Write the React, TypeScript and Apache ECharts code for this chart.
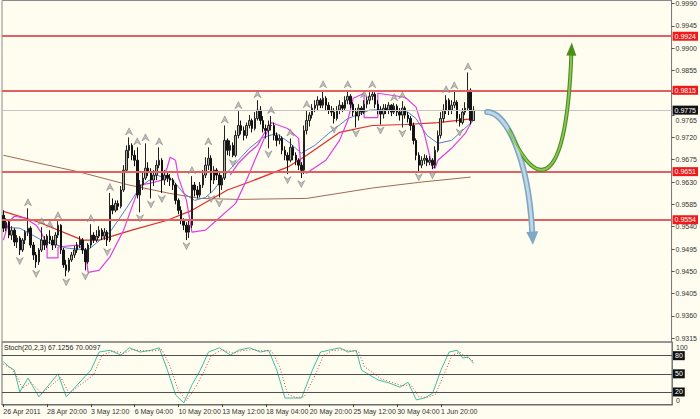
import React, { useEffect, useRef } from "react";
import * as echarts from "echarts";

// ---------- data ----------
const dateLabels = ["26 Apr 2011", "28 Apr 20:00", "3 May 12:00", "6 May 04:00", "10 May 20:00", "13 May 12:00", "18 May 04:00", "20 May 20:00", "25 May 12:00", "30 May 04:00", "1 Jun 20:00"];
const barsPerLabel = 16;
const slotCount = 245;

const firstOpen = 0.9563;
const closes = [
  0.9537, 0.9549, 0.9523, 0.9533, 0.9509, 0.9517, 0.9493, 0.9513, 0.9529, 0.9537,
  0.9503, 0.9483, 0.9469, 0.9493, 0.9513, 0.9503, 0.9521, 0.9513, 0.9503, 0.9523,
  0.9543, 0.9493, 0.9463, 0.9452, 0.9473, 0.9483, 0.9493, 0.9503, 0.9513, 0.9493,
  0.9469, 0.9503, 0.9523, 0.9513, 0.9521, 0.9533, 0.9521, 0.9529, 0.9513, 0.9583,
  0.9573, 0.9587, 0.9581, 0.9614, 0.9654, 0.9694, 0.9704, 0.9684, 0.9674, 0.9604,
  0.9624, 0.9638, 0.9658, 0.9650, 0.9634, 0.9644, 0.9664, 0.9674, 0.9634, 0.9644,
  0.9638, 0.9634, 0.9624, 0.9593, 0.9573, 0.9553, 0.9543, 0.9529, 0.9543, 0.9624,
  0.9614, 0.9604, 0.9624, 0.9644, 0.9664, 0.9678, 0.9634, 0.9654, 0.9644, 0.9624,
  0.9638, 0.9714, 0.9694, 0.9704, 0.9684, 0.9724, 0.9744, 0.9734, 0.9724, 0.9744,
  0.9754, 0.9738, 0.9758, 0.9775, 0.9754, 0.9738, 0.9734, 0.9744, 0.9744, 0.9724,
  0.9714, 0.9718, 0.9694, 0.9684, 0.9674, 0.9700, 0.9684, 0.9674, 0.9664, 0.9654,
  0.9734, 0.9754, 0.9765, 0.9779, 0.9785, 0.9795, 0.9785, 0.9799, 0.9785, 0.9775,
  0.9771, 0.9758, 0.9775, 0.9785, 0.9779, 0.9795, 0.9803, 0.9787, 0.9771, 0.9763,
  0.9779, 0.9771, 0.9787, 0.9795, 0.9803, 0.9807, 0.9787, 0.9775, 0.9767, 0.9779,
  0.9775, 0.9785, 0.9771, 0.9783, 0.9771, 0.9765, 0.9779, 0.9765, 0.9758, 0.9744,
  0.9714, 0.9684, 0.9664, 0.9674, 0.9678, 0.9670, 0.9674, 0.9664, 0.9694, 0.9724,
  0.9758, 0.9775, 0.9795, 0.9775, 0.9785, 0.9791, 0.9758, 0.9750, 0.9771, 0.9779,
  0.9815, 0.9754, 0.9775,
];
const highs = [
  0.9573, 0.9557, 0.9553, 0.9541, 0.9537, 0.9523, 0.9521, 0.9517, 0.9533, 0.9577,
  0.9541, 0.9509, 0.9489, 0.9497, 0.9539, 0.9521, 0.9525, 0.9533, 0.9521, 0.9529,
  0.9551, 0.9545, 0.9497, 0.9473, 0.9477, 0.9489, 0.9501, 0.9509, 0.9521, 0.9517,
  0.9497, 0.9507, 0.9545, 0.9529, 0.9533, 0.9541, 0.9537, 0.9537, 0.9533, 0.9608,
  0.9597, 0.9593, 0.9593, 0.9622, 0.9664, 0.9704, 0.9720, 0.9708, 0.9694, 0.9700,
  0.9634, 0.9650, 0.9708, 0.9670, 0.9658, 0.9654, 0.9674, 0.9700, 0.9678, 0.9654,
  0.9650, 0.9646, 0.9638, 0.9628, 0.9597, 0.9581, 0.9557, 0.9549, 0.9553, 0.9642,
  0.9630, 0.9622, 0.9630, 0.9654, 0.9680, 0.9700, 0.9684, 0.9662, 0.9658, 0.9650,
  0.9644, 0.9744, 0.9718, 0.9714, 0.9710, 0.9734, 0.9773, 0.9754, 0.9742, 0.9750,
  0.9765, 0.9758, 0.9771, 0.9795, 0.9783, 0.9763, 0.9746, 0.9754, 0.9763, 0.9750,
  0.9730, 0.9726, 0.9722, 0.9702, 0.9690, 0.9718, 0.9704, 0.9690, 0.9678, 0.9670,
  0.9744, 0.9775, 0.9771, 0.9787, 0.9795, 0.9803, 0.9799, 0.9815, 0.9803, 0.9791,
  0.9783, 0.9779, 0.9783, 0.9795, 0.9791, 0.9803, 0.9815, 0.9807, 0.9791, 0.9779,
  0.9787, 0.9783, 0.9795, 0.9803, 0.9811, 0.9815, 0.9811, 0.9795, 0.9783, 0.9787,
  0.9787, 0.9791, 0.9787, 0.9789, 0.9787, 0.9779, 0.9793, 0.9783, 0.9771, 0.9763,
  0.9750, 0.9718, 0.9690, 0.9682, 0.9686, 0.9684, 0.9682, 0.9678, 0.9702, 0.9734,
  0.9771, 0.9787, 0.9805, 0.9799, 0.9795, 0.9813, 0.9795, 0.9767, 0.9779, 0.9791,
  0.9851, 0.9819, 0.9783,
];
const lows = [
  0.9529, 0.9531, 0.9517, 0.9513, 0.9501, 0.9497, 0.9483, 0.9489, 0.9505, 0.9521,
  0.9497, 0.9473, 0.9457, 0.9463, 0.9489, 0.9493, 0.9497, 0.9505, 0.9493, 0.9497,
  0.9517, 0.9485, 0.9457, 0.9440, 0.9448, 0.9469, 0.9477, 0.9487, 0.9497, 0.9485,
  0.9452, 0.9465, 0.9497, 0.9507, 0.9509, 0.9517, 0.9513, 0.9513, 0.9501, 0.9509,
  0.9565, 0.9569, 0.9573, 0.9577, 0.9610, 0.9650, 0.9678, 0.9674, 0.9662, 0.9597,
  0.9569, 0.9614, 0.9634, 0.9642, 0.9597, 0.9622, 0.9634, 0.9658, 0.9608, 0.9624,
  0.9630, 0.9622, 0.9614, 0.9585, 0.9565, 0.9545, 0.9533, 0.9513, 0.9517, 0.9537,
  0.9601, 0.9597, 0.9599, 0.9618, 0.9638, 0.9654, 0.9608, 0.9626, 0.9634, 0.9599,
  0.9614, 0.9634, 0.9684, 0.9682, 0.9680, 0.9680, 0.9718, 0.9726, 0.9714, 0.9718,
  0.9738, 0.9730, 0.9734, 0.9754, 0.9746, 0.9730, 0.9718, 0.9698, 0.9734, 0.9714,
  0.9702, 0.9706, 0.9686, 0.9674, 0.9646, 0.9670, 0.9674, 0.9664, 0.9654, 0.9638,
  0.9646, 0.9726, 0.9742, 0.9758, 0.9771, 0.9775, 0.9779, 0.9779, 0.9775, 0.9767,
  0.9763, 0.9748, 0.9754, 0.9767, 0.9771, 0.9775, 0.9787, 0.9779, 0.9763, 0.9740,
  0.9754, 0.9765, 0.9767, 0.9779, 0.9787, 0.9795, 0.9779, 0.9767, 0.9746, 0.9758,
  0.9767, 0.9767, 0.9763, 0.9767, 0.9763, 0.9754, 0.9740, 0.9758, 0.9750, 0.9734,
  0.9706, 0.9674, 0.9652, 0.9658, 0.9666, 0.9662, 0.9664, 0.9656, 0.9658, 0.9690,
  0.9718, 0.9750, 0.9767, 0.9765, 0.9767, 0.9779, 0.9750, 0.9742, 0.9746, 0.9765,
  0.9775, 0.9746, 0.9754,
];

const priceTicks = [0.9315, 0.936, 0.9405, 0.945, 0.9495, 0.954, 0.9585, 0.963, 0.9675, 0.972, 0.9765, 0.981, 0.9855, 0.99, 0.9945, 0.999];
const hiddenPriceLabels = [0.981]; // covered by the 0.9815 level tag in the reference
const loweredPriceLabels = [0.9765]; // drawn just under the current-price tag
const levels = [0.9924, 0.9815, 0.9651, 0.9554];
const lastPrice = 0.9775;

const upFractals = [9, 14, 17, 20, 32, 39, 46, 49, 52, 57, 69, 75, 81, 86, 93, 98, 105, 111, 117, 126, 132, 135, 143, 146, 162, 165, 170];
const downFractals = [6, 12, 23, 30, 38, 50, 54, 58, 67, 76, 79, 84, 97, 104, 109, 121, 129, 138, 146, 152, 157, 167];

const redMA = [[0, 0.9571], [13, 0.9549], [29, 0.9513], [35, 0.9513], [47, 0.9533], [60, 0.9553], [69, 0.9573], [82, 0.9614], [90, 0.963], [104, 0.966], [111, 0.9684], [123, 0.973], [135, 0.9744], [147, 0.9746], [159, 0.975], [172, 0.9758]];
const brownMA = [[0, 0.9684], [13, 0.9668], [28, 0.965], [46, 0.9624], [61, 0.9607], [72, 0.9597], [86, 0.9595], [111, 0.9597], [135, 0.9618], [153, 0.963], [171, 0.964]];
const blueMA = [[0, 0.9539], [6, 0.9537], [14, 0.9513], [23, 0.9497], [31, 0.9493], [34, 0.9507], [39, 0.9529], [45, 0.9577], [50, 0.962], [56, 0.9644], [62, 0.9634], [66, 0.9607], [70, 0.9593], [74, 0.9599], [77, 0.9614], [81, 0.9644], [86, 0.9674], [90, 0.9698], [95, 0.972], [100, 0.9728], [105, 0.9708], [109, 0.9688], [114, 0.9704], [119, 0.9728], [126, 0.9758], [134, 0.9775], [141, 0.9777], [148, 0.9771], [151, 0.9758], [155, 0.9724], [159, 0.9708], [164, 0.9714], [168, 0.9734], [172, 0.9754]];
const magentaA = [[0, 0.9513], [2, 0.9549], [4, 0.9561], [8, 0.9557], [12, 0.9543], [14, 0.9527], [16, 0.9503], [16, 0.9477], [20, 0.9477], [20, 0.9499], [27, 0.9503], [30, 0.9493], [31, 0.9448], [35, 0.9452], [39, 0.9479], [44, 0.9533], [47, 0.9579], [50, 0.9624], [54, 0.9628], [58, 0.9634], [60, 0.966], [61, 0.968], [63, 0.9674], [64, 0.964], [67, 0.9593], [69, 0.9529], [74, 0.9533], [78, 0.9553], [85, 0.9587], [89, 0.9634], [92, 0.9674], [98, 0.975], [104, 0.9738], [108, 0.9718], [109, 0.9654], [111, 0.9648], [118, 0.9674], [123, 0.9714], [126, 0.9754], [128, 0.9799], [132, 0.9809], [132, 0.976], [137, 0.976], [137, 0.9809], [142, 0.9805], [147, 0.9801], [151, 0.9781], [154, 0.9728], [157, 0.966], [158, 0.9658], [159, 0.9674], [164, 0.9698], [169, 0.9728], [172, 0.9758]];
const magentaB = [[83, 0.9644], [86, 0.9668], [90, 0.969], [93, 0.9704], [96, 0.9734], [98, 0.975]];

const stochMain = [[0, 70], [2, 62], [4, 56], [6, 20], [9, 43], [13, 12], [20, 50], [23, 12], [32, 56], [35, 86], [39, 89], [43, 81], [46, 93], [50, 86], [54, 89], [57, 93], [60, 56], [63, 15], [66, 2], [69, 32], [72, 56], [75, 86], [79, 93], [83, 81], [86, 89], [90, 93], [94, 86], [97, 89], [100, 56], [103, 10], [106, 10], [109, 10], [113, 56], [116, 86], [119, 89], [123, 93], [126, 86], [129, 89], [131, 56], [137, 40], [141, 35], [145, 28], [148, 36], [151, 7], [154, 10], [157, 18], [160, 56], [163, 86], [166, 89], [168, 76], [170, 78], [171, 72], [172, 67.13]];
const stochSignal = [[0, 66], [3, 58], [5, 45], [7, 26], [10, 36], [14, 18], [21, 44], [24, 18], [33, 48], [36, 80], [40, 88], [44, 84], [47, 90], [51, 88], [55, 88], [58, 90], [61, 62], [64, 22], [67, 6], [70, 26], [73, 50], [76, 80], [80, 90], [84, 84], [87, 88], [91, 90], [95, 88], [98, 88], [101, 62], [104, 16], [107, 11], [110, 12], [114, 48], [117, 80], [120, 88], [124, 90], [127, 88], [130, 86], [132, 62], [138, 42], [142, 36], [146, 30], [149, 32], [152, 12], [155, 11], [158, 16], [161, 48], [164, 80], [167, 86], [169, 78], [171, 74], [172, 70.01]];
const stochLevels = [80, 50, 20];
const stochTitle = "Stoch(20,2,3) 67.1256 70.0097";

// forecast arrows: [bar index, price] for start, control 1, control 2, end
const blueArrow = [[177, 0.9771], [184, 0.9771], [192, 0.968], [193.5, 0.953]];
const greenArrow = [[185, 0.9735], [196, 0.96], [206, 0.9625], [207.8, 0.9885]];

// ---------- chart ----------
const FONT = "Liberation Sans, Arial, sans-serif";
const BG = "#fffdf0";
const FS = 7;

export default function App() {
  const ref = useRef<HTMLDivElement>(null);
  useEffect(() => {
    if (!ref.current) return;
    const chart = echarts.init(ref.current, undefined, { renderer: "svg" });
    const cats = Array.from({ length: slotCount }, (_, i) => String(i));
    const candles = closes.map((c, i) => [i === 0 ? firstOpen : closes[i - 1], c, lows[i], highs[i]]);
    const isLabel = (idx: number) => idx % barsPerLabel === 0 && idx / barsPerLabel < dateLabels.length;
    const fractalSymbol = "path://M5 0 L10 9 L5 6 L0 9 Z";
    const priceLabelValues = priceTicks.filter((v) => !hiddenPriceLabels.includes(v) && !loweredPriceLabels.includes(v));

    const levelLabel = (bg: string, text: string) => ({
      show: true,
      position: "end" as const,
      distance: 1,
      fontSize: FS,
      fontFamily: FONT,
      color: "#fff",
      backgroundColor: bg,
      padding: [1, 2, 1, 2],
      formatter: () => text,
    });

    const lineS = (data: number[][], color: string, width = 1, extra: any = {}) => ({
      type: "line",
      xAxisIndex: 0,
      yAxisIndex: 0,
      data,
      showSymbol: false,
      symbol: "none",
      smooth: false,
      lineStyle: { color, width },
      silent: true,
      z: 3,
      ...extra,
    });

    const priceAxisBase = { type: "value", gridIndex: 0, position: "right", min: 0.93075, max: 0.9996, splitLine: { show: false } };

    chart.setOption({
      animation: false,
      backgroundColor: BG,
      title: {
        text: stochTitle,
        left: 4,
        top: 344,
        padding: 0,
        textStyle: { fontSize: FS, fontWeight: "normal", color: "#222", fontFamily: FONT },
      },
      grid: [
        { left: 2, right: 28, top: 0, height: 342, show: true, borderColor: "#8a8a8a", borderWidth: 1, backgroundColor: "transparent" },
        { left: 2, right: 28, top: 342, height: 63, show: true, borderColor: "#6a6a6a", borderWidth: 1, backgroundColor: "transparent" },
      ],
      xAxis: [
        { type: "category", gridIndex: 0, data: cats, boundaryGap: true, axisLine: { show: false }, axisTick: { show: false }, axisLabel: { show: false }, splitLine: { show: false } },
        {
          type: "category",
          gridIndex: 1,
          data: cats,
          boundaryGap: true,
          axisLine: { show: true, lineStyle: { color: "#6a6a6a" } },
          axisTick: { show: true, alignWithLabel: true, interval: (i: number) => isLabel(i), length: 3, lineStyle: { color: "#444" } },
          axisLabel: {
            interval: (i: number) => isLabel(i),
            formatter: (_v: string, i: number) => dateLabels[i / barsPerLabel] ?? "",
            align: "left",
            hideOverlap: false,
            fontSize: FS,
            fontFamily: FONT,
            color: "#333",
            margin: 3,
          },
          splitLine: { show: false },
        },
      ],
      yAxis: [
        {
          ...priceAxisBase,
          axisLine: { show: true, lineStyle: { color: "#7a7a7a" } },
          axisTick: { show: true, length: 3, customValues: priceTicks, lineStyle: { color: "#555" } },
          axisLabel: { customValues: priceLabelValues, formatter: (v: number) => v.toFixed(4), fontSize: FS, fontFamily: FONT, color: "#333", margin: 4 },
        },
        {
          type: "value",
          gridIndex: 1,
          position: "right",
          min: -1.5,
          max: 102.6,
          axisLine: { show: true, lineStyle: { color: "#7a7a7a" } },
          axisTick: { show: false, customValues: [100] },
          axisLabel: { customValues: [100], verticalAlign: "top", fontSize: FS, fontFamily: FONT, color: "#333", margin: 4 },
          splitLine: { show: false },
        },
        {
          type: "value",
          gridIndex: 1,
          position: "right",
          min: -1.5,
          max: 102.6,
          axisLine: { show: false },
          axisTick: { show: false, customValues: [0] },
          axisLabel: { customValues: [0], verticalAlign: "bottom", fontSize: FS, fontFamily: FONT, color: "#333", margin: 4 },
          splitLine: { show: false },
        },
        {
          ...priceAxisBase,
          axisLine: { show: false },
          axisTick: { show: false, customValues: loweredPriceLabels },
          axisLabel: { customValues: loweredPriceLabels, verticalAlign: "top", padding: [2, 0, 0, 0], formatter: (v: number) => v.toFixed(4), fontSize: FS, fontFamily: FONT, color: "#333", margin: 4 },
        },
      ],
      series: [
        lineS(brownMA, "#a06a55", 1),
        lineS(redMA, "#e02a2a", 1.2, {
          markLine: {
            symbol: "none",
            silent: true,
            precision: 4,
            data: [
              ...levels.map((v) => ({ yAxis: v, lineStyle: { color: "#e46060", width: 2, type: "solid" }, label: levelLabel("#f01818", v.toFixed(4)) })),
              { yAxis: lastPrice, lineStyle: { color: "#c4c4c4", width: 1, type: "solid" }, label: levelLabel("#111111", lastPrice.toFixed(4)) },
            ],
          },
        }),
        lineS(blueMA, "#4f80cc", 1),
        lineS(magentaA, "#e23ce2", 1.2),
        lineS(magentaB, "#e23ce2", 1.2),
        {
          type: "candlestick",
          xAxisIndex: 0,
          yAxisIndex: 0,
          data: candles,
          barWidth: 2,
          silent: true,
          z: 4,
          itemStyle: { color: "#a9b19b", color0: "#151515", borderColor: "#222", borderColor0: "#111", borderWidth: 1 },
        },
        {
          type: "scatter",
          xAxisIndex: 0,
          yAxisIndex: 0,
          data: upFractals.map((i) => [i, highs[i]]),
          symbol: fractalSymbol,
          symbolSize: [7, 7],
          symbolOffset: [0, -6],
          itemStyle: { color: "#b0b0b0", borderColor: "#707070", borderWidth: 0.6 },
          silent: true,
          z: 5,
        },
        {
          type: "scatter",
          xAxisIndex: 0,
          yAxisIndex: 0,
          data: downFractals.map((i) => [i, lows[i]]),
          symbol: fractalSymbol,
          symbolSize: [7, 7],
          symbolRotate: 180,
          symbolOffset: [0, 6],
          itemStyle: { color: "#b0b0b0", borderColor: "#707070", borderWidth: 0.6 },
          silent: true,
          z: 5,
        },
        {
          type: "line",
          xAxisIndex: 1,
          yAxisIndex: 1,
          data: stochMain,
          showSymbol: false,
          symbol: "none",
          lineStyle: { color: "#3fbfa0", width: 1 },
          silent: true,
          z: 3,
          markLine: {
            symbol: "none",
            silent: true,
            data: stochLevels.map((v) => ({ yAxis: v, label: { formatter: String(v) } })),
            lineStyle: { color: "#505050", width: 1, type: "solid" },
            label: { show: true, position: "end", distance: 1, fontSize: FS, fontFamily: FONT, color: "#fff", backgroundColor: "#111", padding: [1, 2, 1, 2] },
          },
        },
        {
          type: "line",
          xAxisIndex: 1,
          yAxisIndex: 1,
          data: stochSignal,
          showSymbol: false,
          symbol: "none",
          lineStyle: { color: "#d04040", width: 1, type: [1, 2] },
          silent: true,
          z: 4,
        },
      ],
    });

    // arrows positioned through the chart's own scales
    const toPx = (pt: number[]) => {
      const a = chart.convertToPixel({ gridIndex: 0 }, [0, pt[1]]) as number[];
      const b = chart.convertToPixel({ gridIndex: 0 }, [1, pt[1]]) as number[];
      return [a[0] + (b[0] - a[0]) * pt[0], a[1]];
    };
    const arrow = (pts: number[][], outer: string, inner: string, width: number, headLen: number, headHalf: number) => {
      const [p0, p1, p2, p3] = pts.map(toPx);
      const dx = p3[0] - p2[0];
      const dy = p3[1] - p2[1];
      const len = Math.hypot(dx, dy) || 1;
      const ux = dx / len;
      const uy = dy / len;
      const nx = -uy;
      const ny = ux;
      const tip = [p3[0] + ux * headLen, p3[1] + uy * headLen];
      const b1 = [p3[0] + nx * headHalf, p3[1] + ny * headHalf];
      const b2 = [p3[0] - nx * headHalf, p3[1] - ny * headHalf];
      const shape = { x1: p0[0], y1: p0[1], cpx1: p1[0], cpy1: p1[1], cpx2: p2[0], cpy2: p2[1], x2: p3[0], y2: p3[1] };
      return [
        { type: "bezierCurve", shape, style: { stroke: outer, lineWidth: width, fill: "none", lineCap: "round" }, z: 50, silent: true },
        { type: "bezierCurve", shape, style: { stroke: inner, lineWidth: width * 0.45, fill: "none", lineCap: "round" }, z: 51, silent: true },
        { type: "polygon", shape: { points: [tip, b1, b2] }, style: { fill: outer }, z: 52, silent: true },
      ];
    };
    chart.setOption({
      graphic: [
        ...arrow(blueArrow, "#7fa8c4", "#c0d8e6", 6, 13, 6),
        ...arrow(greenArrow, "#4c8e1c", "#8cc65c", 4, 13, 5),
      ],
    });

    return () => chart.dispose();
  }, []);

  return (
    <div style={{ position: "fixed", left: 0, top: 0, width: 700, height: 419, background: BG }}>
      <div ref={ref} style={{ width: 700, height: 419 }} />
    </div>
  );
}
